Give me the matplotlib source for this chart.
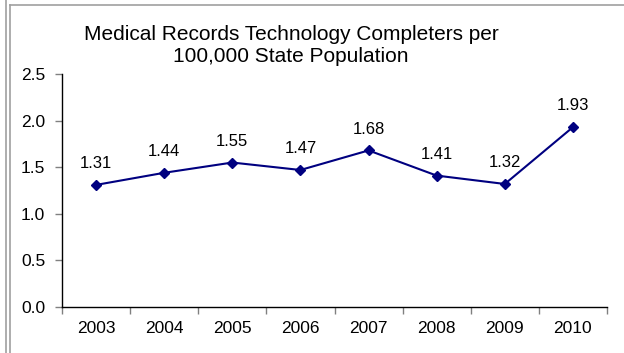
import matplotlib
matplotlib.use('Agg')
import matplotlib.pyplot as plt
from matplotlib.lines import Line2D
import numpy as np

plt.rcParams['font.family'] = ['Liberation Sans', 'DejaVu Sans']

years = ['2003', '2004', '2005', '2006', '2007', '2008', '2009', '2010']
values = [1.31, 1.44, 1.55, 1.47, 1.68, 1.41, 1.32, 1.93]
yticks = [0.0, 0.5, 1.0, 1.5, 2.0, 2.5]

W, H = 624, 353
fig = plt.figure(figsize=(W/100, H/100), dpi=100)
ax = fig.add_axes([62/W, 1-307/H, (607-62)/W, (307-74)/H])

x = np.arange(len(years))
ax.plot(x, values, color='#000080', linewidth=1.5, marker='D', markersize=5.5)
for xi, v in zip(x, values):
    ax.annotate('%.2f' % v, (xi, v), xytext=(0, 10), textcoords='offset points',
                ha='center', va='bottom', fontsize=12)

ax.set_xlim(-0.5, len(years) - 0.5)
ax.set_ylim(0, 2.5)
ax.set_yticks(yticks)
ax.set_yticklabels(['%.1f' % t for t in yticks], fontsize=12.5)
ax.set_xticks(np.arange(-0.5, len(years), 1.0))
ax.set_xticklabels([])
ax.set_xticks(x, minor=True)
ax.set_xticklabels(years, minor=True, fontsize=12.5)
ax.tick_params(axis='x', which='minor', length=0, pad=10)
ax.tick_params(axis='both', which='major', length=5, color='#808080', width=1)
ax.tick_params(axis='y', pad=7)
for s in ['top', 'right']:
    ax.spines[s].set_visible(False)
for s in ['left', 'bottom']:
    ax.spines[s].set_color('black')
    ax.spines[s].set_linewidth(1)

fig.text(291/W, 1-46/H, 'Medical Records Technology Completers per\n100,000 State Population',
         ha='center', va='center', fontsize=15, linespacing=1.2)

# outer frame lines
for px in [6, 10]:
    fig.add_artist(Line2D([px/W, px/W], [0, 1 if px == 6 else 1-5/H], color='#a0a0a0', linewidth=1.2))
fig.add_artist(Line2D([10/W, 1], [1-5/H, 1-5/H], color='#a0a0a0', linewidth=1.2))

fig.savefig('out.png', dpi=100)
